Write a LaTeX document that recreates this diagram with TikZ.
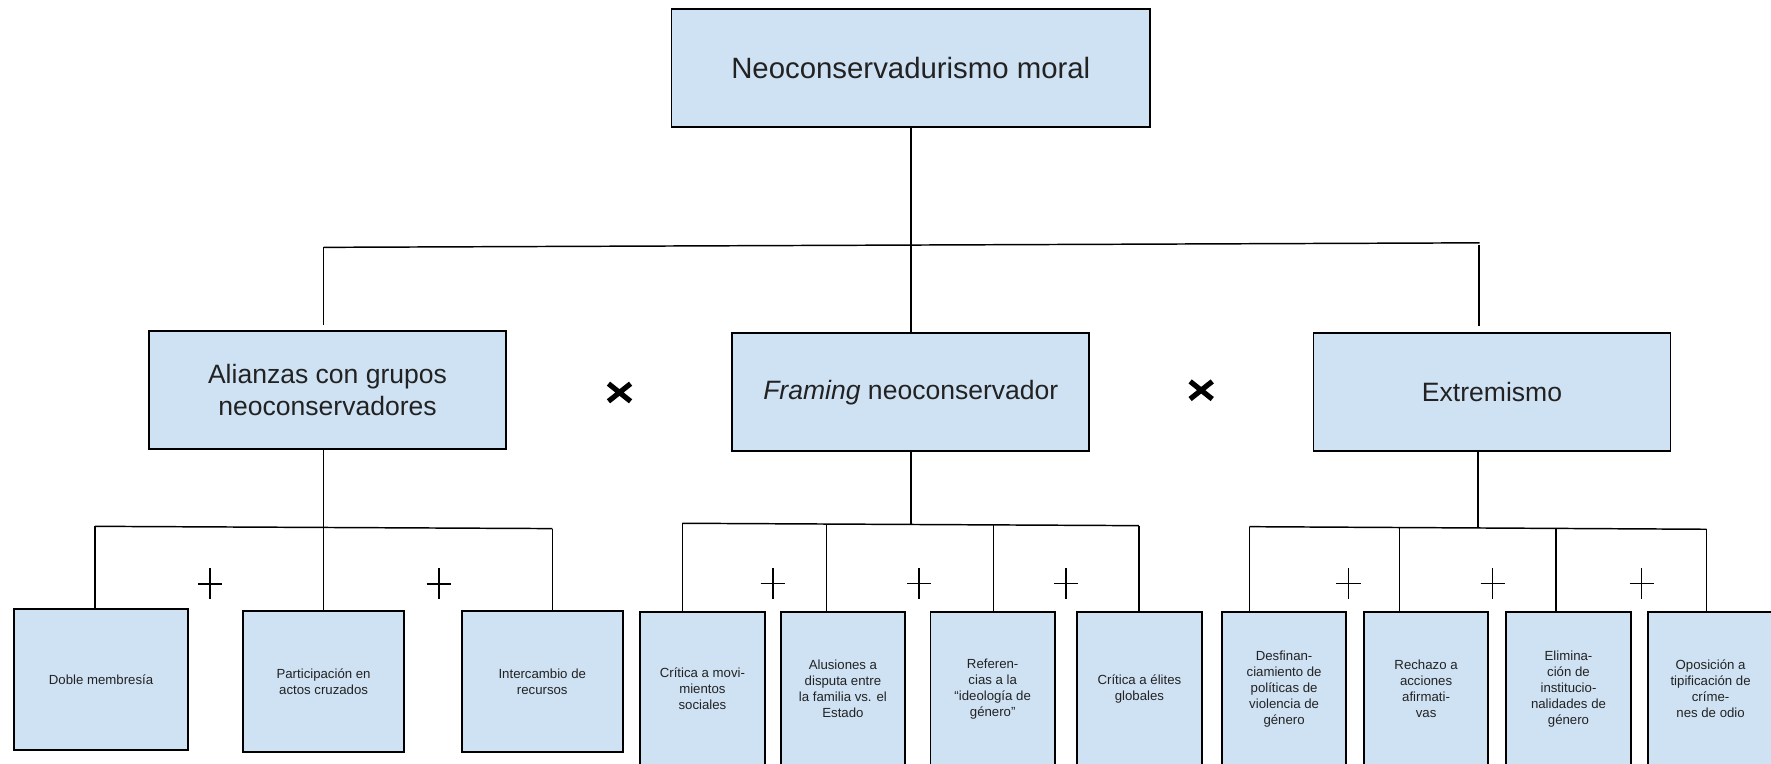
\documentclass[tikz,border=0pt]{standalone}
\usepackage{fontspec}
\setmainfont{Liberation Sans}
\definecolor{boxfill}{HTML}{CFE2F3}
\definecolor{ink}{HTML}{222222}
\begin{document}
\begin{tikzpicture}[x=1pt,y=-1pt,
  box/.style={draw=black, fill=boxfill, line width=1.6pt, inner sep=0pt, align=center, text=ink},
  bigtxt/.style={font=\fontsize{26}{31}\selectfont},
  midtxt/.style={font=\fontsize{23.5}{28.2}\selectfont},
  smalltxt/.style={font=\fontsize{11.7}{14.2}\selectfont},
  lbox/.style={box, smalltxt, minimum height=125pt},
  sbox/.style={box, smalltxt, minimum width=110.3pt, minimum height=137pt},
  conn/.style={draw=black, line width=1.3pt},
  plusmark/.style={draw=black, line width=1.5pt},
  timesmark/.style={draw=black, line width=4.6pt}]
\clip (0,0) rectangle (1568,676);
\fill[white] (0,0) rectangle (1568,676);

% top
\node[box, bigtxt, minimum width=423.6pt, minimum height=104.6pt] (top) at (806.4,60.3) {Neoconservadurismo moral};

% second level
\node[box, midtxt, minimum width=316pt, minimum height=104.7pt] (A) at (290,345.4) {Alianzas con grupos\\neoconservadores};
\node[box, midtxt, minimum width=316pt, minimum height=104.5pt] (B) at (806.4,347.2) {\textit{Framing} neoconservador};
\node[box, midtxt, minimum width=316pt, minimum height=104pt] (C) at (1321,347) {Extremismo};

% bottom level - left
\node[lbox, minimum width=153.5pt] (L1) at (89.5,601.5) {Doble membresía};
\node[lbox, minimum width=143pt] (L2) at (286.5,603.5) {Participación en\\actos cruzados};
\node[lbox, minimum width=142.8pt] (L3) at (480.1,603.5) {Intercambio de\\recursos};

% bottom level - middle
\node[sbox] (M1) at (621.9,610.1) {Crítica a movi-\\mientos\\sociales};
\node[sbox] (M2) at (746.3,610.1) {Alusiones a\\disputa entre\\la familia vs. el\\Estado};
\node[sbox] (M3) at (878.9,610.1) {Referen-\\cias a la\\“ideología de\\género”};
\node[sbox] (M4) at (1008.8,610.1) {Crítica a élites\\globales};

% bottom level - right
\node[sbox] (R1) at (1136.9,610) {Desfinan-\\ciamiento de\\políticas de\\violencia de\\género};
\node[sbox] (R2) at (1262.6,610) {Rechazo a\\acciones\\afirmati-\\vas};
\node[sbox] (R3) at (1388.7,610) {Elimina-\\ción de\\institucio-\\nalidades de\\género};
\node[sbox] (R4) at (1514.5,610) {Oposición a\\tipificación de\\críme-\\nes de odio};

% main connectors
\coordinate (jL) at (286.5,219);
\coordinate (jR) at (1310,215);
\coordinate (dL) at (286.5,288);
\coordinate (jR2) at (1309.5,216.5);
\coordinate (dR) at (1309.5,288.5);
\draw[conn] (jL) -- (jR);
\draw[conn] (top.south) -- (B.north);
\draw[conn] (jL) -- (dL);
\draw[conn] (jR2) -- (dR);

% left group
\coordinate (lL) at (84,466);
\coordinate (lR) at (489,468);
\draw[conn] (lL) -- (lR);
\draw[conn] (A.south -| L2.north) -- (L2.north);
\draw[conn] (lL) -- (lL |- L1.north);
\draw[conn] (lR) -- (lR |- L3.north);

% middle group
\coordinate (mL) at (604.1,463.3);
\coordinate (mR) at (1008.4,465.4);
\coordinate (mC) at (806.4,464.4);
\coordinate (md2) at (731.9,464);
\coordinate (md3) at (879.4,464.8);
\draw[conn] (mL) -- (mR);
\draw[conn] (B.south) -- (mC);
\draw[conn] (mL) -- (mL |- M1.north);
\draw[conn] (md2) -- (md2 |- M2.north);
\draw[conn] (md3) -- (md3 |- M3.north);
\draw[conn] (mR) -- (mR |- M4.north);

% right group
\coordinate (rL) at (1106.2,466.3);
\coordinate (rR) at (1511,468.6);
\coordinate (rC) at (1308.6,467.5);
\coordinate (rd2) at (1239.1,467);
\coordinate (rd3) at (1377.6,467.8);
\draw[conn] (rL) -- (rR);
\draw[conn] (rC |- C.south) -- (rC);
\draw[conn] (rL) -- (rL |- R1.north);
\draw[conn] (rd2) -- (rd2 |- R2.north);
\draw[conn] (rd3) -- (rd3 |- R3.north);
\draw[conn] (rR) -- (rR |- R4.north);

% plus signs
\foreach \px/\py in {186.2/516.8, 388.4/516.8, 684.1/516.5, 813.9/516.5, 943.8/516.5, 1193.9/516.5, 1321.5/516.5, 1453.4/516.5}{
  \draw[plusmark] (\px-10.7,\py) -- (\px+10.7,\py) (\px,\py-13.5) -- (\px,\py+13.5);
}

% times signs
\foreach \tx/\ty in {548.5/347.5, 1063.5/345.5}{
  \draw[timesmark] (\tx-9.8,\ty-7.8) -- (\tx+9.8,\ty+7.8) (\tx-9.8,\ty+7.8) -- (\tx+9.8,\ty-7.8);
}
\end{tikzpicture}
\end{document}
